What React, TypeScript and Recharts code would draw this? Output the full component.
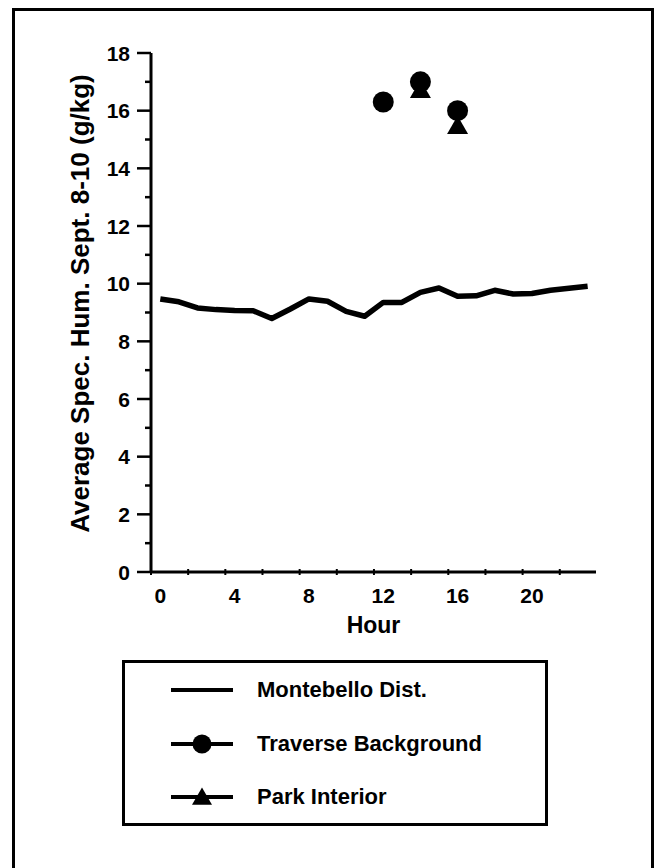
import React from "react";
import { LineChart, Line, XAxis, YAxis, Legend } from "recharts";

const HOURS = [0, 1, 2, 3, 4, 5, 6, 7, 8, 9, 10, 11, 12, 13, 14, 15, 16, 17, 18, 19, 20, 21, 22, 23];
const MONTEBELLO = [
  9.47, 9.37, 9.16, 9.1, 9.07, 9.06, 8.79, 9.12, 9.47, 9.39, 9.04, 8.87,
  9.35, 9.35, 9.7, 9.85, 9.56, 9.58, 9.77, 9.64, 9.66, 9.77, 9.84, 9.91,
];
const TRAVERSE_HOURS = [12, 14, 16];
const TRAVERSE = [16.3, 17.0, 16.0];
const PARK_HOURS = [14, 16];
const PARK = [16.65, 15.4];

const X_TICKS = [-0.5, 1.5, 3.5, 5.5, 7.5, 9.5, 11.5, 13.5, 15.5, 17.5, 19.5, 21.5];
const Y_TICKS = [0, 1, 2, 3, 4, 5, 6, 7, 8, 9, 10, 11, 12, 13, 14, 15, 16, 17, 18];
const X_DOMAIN = [-0.5, 23.45];

const FONT = "'Liberation Sans', Arial, sans-serif";
const INK = "#000";

const montebelloRows = HOURS.map((h, i) => ({ hour: h, value: MONTEBELLO[i] }));
const traverseRows = TRAVERSE_HOURS.map((h, i) => ({ hour: h, value: TRAVERSE[i] }));
const parkRows = PARK_HOURS.map((h, i) => ({ hour: h, value: PARK[i] }));

const LEGEND_ITEMS = [
  { label: "Montebello Dist.", marker: "none" },
  { label: "Traverse Background", marker: "circle" },
  { label: "Park Interior", marker: "triangle" },
];

function triPath(cx: number, cy: number, w: number) {
  const h = w * 0.87;
  return `M${cx},${cy - (h * 2) / 3}L${cx + w / 2},${cy + h / 3}L${cx - w / 2},${cy + h / 3}Z`;
}

const CircleDot = (props: any) => {
  const { cx, cy, index } = props;
  if (cx == null || cy == null) return <g key={index} />;
  return <circle key={index} cx={cx} cy={cy} r={10.5} fill={INK} />;
};

const TriangleDot = (props: any) => {
  const { cx, cy, index } = props;
  if (cx == null || cy == null) return <g key={index} />;
  return <path key={index} d={triPath(cx, cy, 21)} fill={INK} />;
};

const HourTick = (props: any) => {
  const { x, y, payload } = props;
  const hour = payload.value + 0.5;
  return (
    <g>
      <line x1={x} x2={x} y1={y - 3} y2={y + 3} stroke={INK} strokeWidth={2} />
      {hour % 4 === 0 && (
        <text x={x + 9.3} y={y + 23} textAnchor="middle" dominantBaseline="central"
          fontFamily={FONT} fontWeight="bold" fontSize={21} fill={INK}>
          {hour}
        </text>
      )}
    </g>
  );
};

const HumTick = (props: any) => {
  const { x, y, payload } = props;
  const major = payload.value % 2 === 0;
  return (
    <g>
      <line x1={x - (major ? 14 : 6)} x2={x} y1={y} y2={y} stroke={INK} strokeWidth={2.5} />
      {major && (
        <text x={x - 21} y={y} textAnchor="end" dominantBaseline="central"
          fontFamily={FONT} fontWeight="bold" fontSize={21} fill={INK}>
          {payload.value}
        </text>
      )}
    </g>
  );
};

const LegendBox = () => (
  <div style={{ position: "relative", width: "100%", height: "100%", fontFamily: FONT }}>
    {LEGEND_ITEMS.map((item, i) => (
      <div key={item.label} style={{ position: "absolute", left: 46, top: 27 + i * 53.5 - 15, height: 30, display: "flex", alignItems: "center" }}>
        <svg width={62} height={30}>
          <line x1={0} x2={62} y1={15} y2={15} stroke={INK} strokeWidth={4} />
          {item.marker === "circle" && <circle cx={31} cy={15} r={9.5} fill={INK} />}
          {item.marker === "triangle" && <path d={triPath(31, 17, 20)} fill={INK} />}
        </svg>
        <span style={{ marginLeft: 24, fontSize: 22, fontWeight: "bold", color: INK, whiteSpace: "nowrap" }}>
          {item.label}
        </span>
      </div>
    ))}
  </div>
);

export default function App() {
  return (
    <div style={{ position: "fixed", left: 0, top: 0, width: 654, height: 868, overflow: "hidden", background: "#fff" }}>
      <div style={{ position: "absolute", left: 12, top: 8, width: 642, height: 900, border: "3px solid #000", boxSizing: "border-box" }} />
      <div style={{ position: "absolute", left: 0, top: 0 }}>
        <LineChart width={654} height={868} margin={{ top: 53, right: 58, left: 0, bottom: 0 }}>
          <XAxis xAxisId="h" dataKey="hour" type="number" domain={X_DOMAIN} ticks={X_TICKS}
            allowDataOverflow height={296} tickSize={0} tickMargin={0} tickLine={false}
            tick={<HourTick />} axisLine={{ stroke: INK, strokeWidth: 3 }}
            label={{ value: "Hour", position: "insideTop", offset: 45, fontFamily: FONT, fontWeight: "bold", fontSize: 23, fill: INK }} />
          <XAxis xAxisId="top" orientation="top" type="number" domain={X_DOMAIN} height={0}
            tick={false} tickLine={false} axisLine={{ stroke: INK, strokeWidth: 3 }} />
          <YAxis yAxisId="v" type="number" domain={[0, 18]} ticks={Y_TICKS} width={151}
            tickSize={0} tickMargin={0} tickLine={false} tick={<HumTick />} interval={0}
            axisLine={{ stroke: INK, strokeWidth: 3 }}
            label={{ value: "Average Spec. Hum. Sept. 8-10 (g/kg)", angle: -90, position: "center", dx: 4, dy: -9, fontFamily: FONT, fontWeight: "bold", fontSize: 26, fill: INK }} />
          <YAxis yAxisId="right" orientation="right" type="number" domain={[0, 18]} width={0}
            tick={false} tickLine={false} axisLine={{ stroke: INK, strokeWidth: 3 }} />
          <Line xAxisId="h" yAxisId="v" data={montebelloRows} dataKey="value" stroke={INK}
            strokeWidth={5.5} strokeLinejoin="round" dot={false} isAnimationActive={false} />
          <Line xAxisId="h" yAxisId="v" data={parkRows} dataKey="value" stroke="none"
            dot={<TriangleDot />} isAnimationActive={false} />
          <Line xAxisId="h" yAxisId="v" data={traverseRows} dataKey="value" stroke="none"
            dot={<CircleDot />} isAnimationActive={false} />
          <Legend layout="vertical" align="center" verticalAlign="middle" content={<LegendBox />}
            wrapperStyle={{ position: "absolute", left: 122, top: 660, width: 426, height: 166, border: "3px solid #000", boxSizing: "border-box", background: "#fff" }} />
        </LineChart>
      </div>
    </div>
  );
}
